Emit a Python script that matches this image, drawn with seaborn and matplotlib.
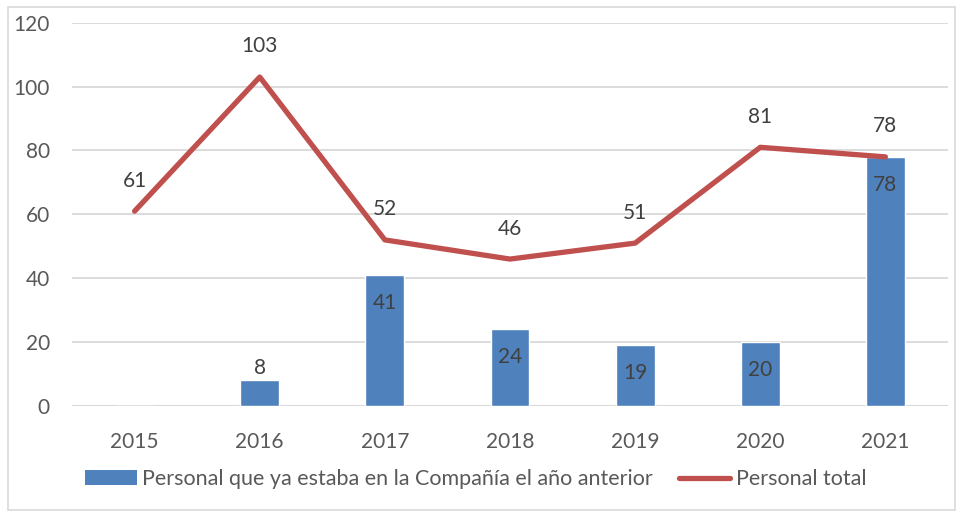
import matplotlib
matplotlib.use("Agg")
import matplotlib.pyplot as plt
import seaborn as sns
import pandas as pd
import numpy as np
from matplotlib.patches import Rectangle
from matplotlib.lines import Line2D
from matplotlib.patches import Patch

years = ["2015", "2016", "2017", "2018", "2019", "2020", "2021"]
personal_anterior = [0, 8, 41, 24, 19, 20, 78]
personal_total = [61, 103, 52, 46, 51, 81, 78]
y_ticks = [0, 20, 40, 60, 80, 100, 120]

bar_label = "Personal que ya estaba en la Compañía el año anterior"
line_label = "Personal total"

sns.set_style("white")
plt.rcParams["font.family"] = ["Lato", "DejaVu Sans"]

text_color = "#595959"
bar_color = "#4F81BD"
line_color = "#C0504D"
grid_color = "#D9D9D9"
fs = 15

df = pd.DataFrame({"year": years, "anterior": personal_anterior, "total": personal_total})

fig = plt.figure(figsize=(9.63, 5.13), dpi=100)
ax = fig.add_axes([0.0748, 0.2086, 0.9096, 0.7471])

sns.barplot(data=df, x="year", y="anterior", color=bar_color, width=0.31,
            saturation=1, ax=ax, zorder=2)
pos = np.arange(len(years))
sns.lineplot(x=pos, y=df["total"], color=line_color, linewidth=3.8, ax=ax,
             zorder=3, solid_capstyle="round", solid_joinstyle="round")

ax.set_xlim(-0.5, len(years) - 0.5)
ax.set_ylim(0, 120)
ax.set_yticks(y_ticks)
for t in y_ticks[1:]:
    ax.axhline(t, color=grid_color, linewidth=1.3, zorder=0)
ax.axhline(0, color=grid_color, linewidth=1.5, zorder=1)

for s in ax.spines.values():
    s.set_visible(False)
ax.tick_params(axis="both", length=0, labelsize=fs, colors=text_color)
ax.tick_params(axis="y", pad=16)
ax.tick_params(axis="x", pad=19)
ax.set_xlabel("")
ax.set_ylabel("")

# data labels
for i, v in enumerate(personal_total):
    ax.annotate(str(v), (i, v), xytext=(0, 22), textcoords="offset points",
                ha="center", va="center", fontsize=fs, color="#404040")
for i, v in enumerate(personal_anterior):
    if v == 0:
        continue
    if v < 15:
        ax.annotate(str(v), (i, v), xytext=(0, 9), textcoords="offset points",
                    ha="center", va="center", fontsize=fs, color="#404040")
    else:
        ax.annotate(str(v), (i, v), xytext=(0, -20), textcoords="offset points",
                    ha="center", va="center", fontsize=fs, color="#404040")

lfs = 15.5
handles = [Patch(facecolor=bar_color, edgecolor="none"),
           Line2D([0], [0], color=line_color, linewidth=3.8, solid_capstyle="round")]
fig.legend(handles, [bar_label, line_label], loc="center", bbox_to_anchor=(0.494, 0.066),
           ncol=2, frameon=False, fontsize=lfs, labelcolor=text_color,
           handlelength=2.4, handleheight=0.7, handletextpad=0.25, columnspacing=1.2)

fig.patches.append(Rectangle((8 / 963, 3 / 513), 947 / 963, 503 / 513,
                             transform=fig.transFigure, fill=False,
                             edgecolor="#D9D9D9", linewidth=1.2))

fig.savefig("out.png", dpi=100)
